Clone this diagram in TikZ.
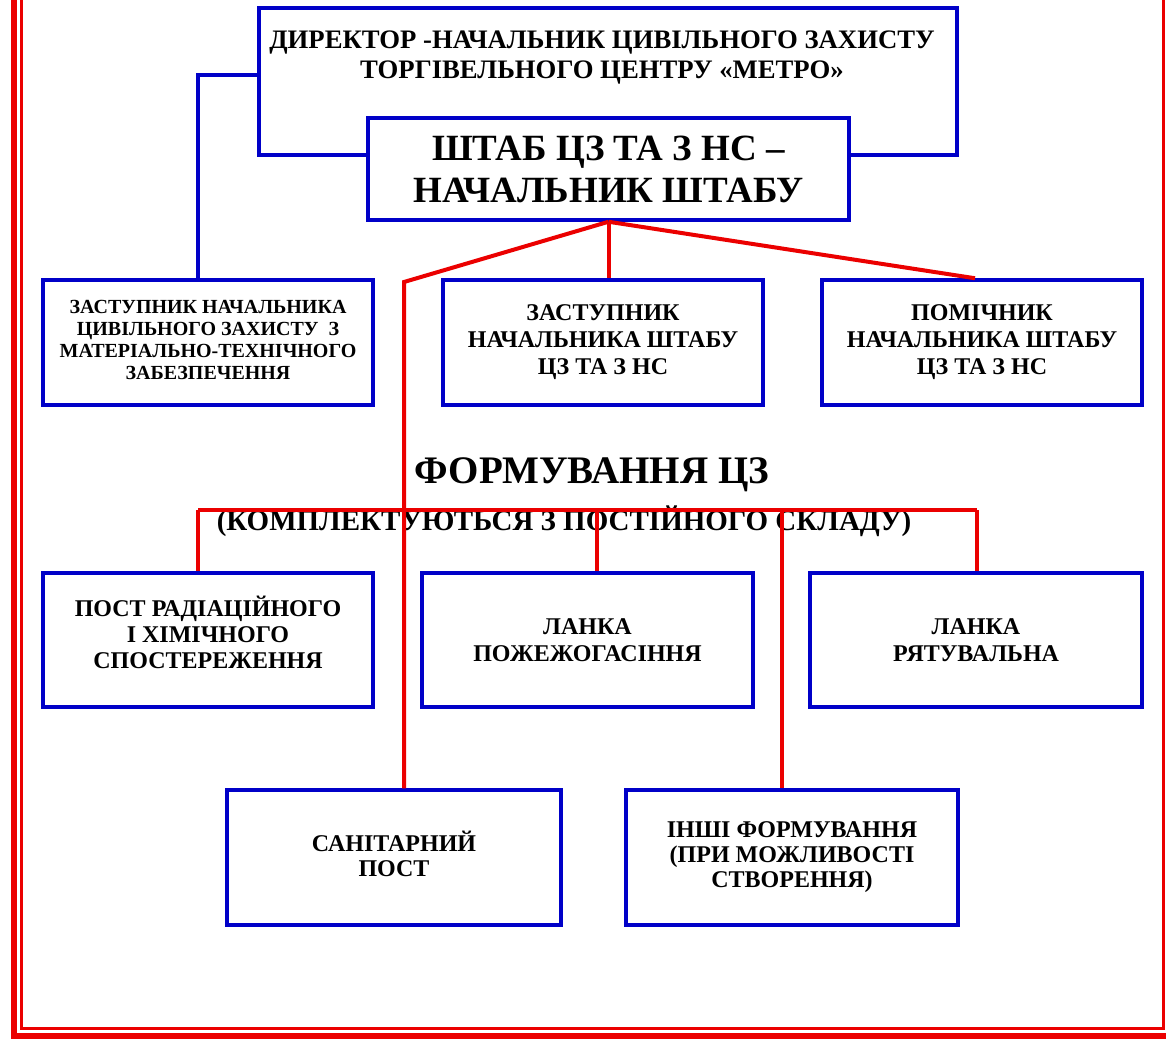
\documentclass[tikz,border=0pt]{standalone}
\usepackage{fontspec}
\setmainfont{Liberation Serif}
\definecolor{bl}{RGB}{0,0,200}
\definecolor{rd}{RGB}{235,0,0}
\begin{document}
\begin{tikzpicture}[x=1pt,y=-1pt,
  box/.style={draw=bl, line width=3.5pt, fill=white, inner sep=0pt, align=center, font=\bfseries},
  redline/.style={draw=rd, line width=4pt},
  blueline/.style={draw=bl, line width=3.5pt},
  fr/.style={draw=rd},
  lbl/.style={font=\bfseries, inner sep=0pt, align=center}]
\useasboundingbox (0,0) rectangle (1166,1038);
% frame
\draw[fr, line width=6pt] (14,-20) -- (14,1035.5) -- (1175,1035.5);
\draw[fr, line width=3pt] (21.5,-20) -- (21.5,1028.5) -- (1163,1028.5) -- (1163,-20);

% top boxes
\node[box, minimum width=698pt, minimum height=147pt] (dir) at (608,81.5) {};
\node[lbl, font=\bfseries\fontsize{26.7}{30}\selectfont] (dirtext) at (602,58)
  {ДИРЕКТОР -НАЧАЛЬНИК ЦИВІЛЬНОГО ЗАХИСТУ\\ТОРГІВЕЛЬНОГО ЦЕНТРУ «МЕТРО»};
\node[box, minimum width=481pt, minimum height=102pt, font=\bfseries\fontsize{37}{42}\selectfont] (staff) at (608.5,169)
  {ШТАБ ЦЗ ТА З НС –\\НАЧАЛЬНИК ШТАБУ};

% first row
\node[box, minimum width=330pt, minimum height=125pt, text depth=6pt, font=\bfseries\fontsize{20}{22}\selectfont] (dz) at (208,342.5)
  {ЗАСТУПНИК НАЧАЛЬНИКА\\ЦИВІЛЬНОГО ЗАХИСТУ~~З\\МАТЕРІАЛЬНО-ТЕХНІЧНОГО\\ЗАБЕЗПЕЧЕННЯ};
\node[box, minimum width=320pt, minimum height=125pt, text depth=6pt, font=\bfseries\fontsize{24}{27}\selectfont] (zn) at (603,342.5)
  {ЗАСТУПНИК\\НАЧАЛЬНИКА ШТАБУ\\ЦЗ ТА З НС};
\node[box, minimum width=320pt, minimum height=125pt, text depth=6pt, font=\bfseries\fontsize{24}{27}\selectfont] (pm) at (982,342.5)
  {ПОМІЧНИК\\НАЧАЛЬНИКА ШТАБУ\\ЦЗ ТА З НС};

% headings
\node[lbl, anchor=base, font=\bfseries\fontsize{39}{39}\selectfont] (title) at (592,483) {ФОРМУВАННЯ ЦЗ};
\node[lbl, anchor=base, font=\bfseries\fontsize{29}{29}\selectfont] (sub) at (564,530) {(КОМПЛЕКТУЮТЬСЯ З ПОСТІЙНОГО СКЛАДУ)};

% second row
\node[box, minimum width=330pt, minimum height=134pt, text depth=15pt, font=\bfseries\fontsize{24}{26}\selectfont] (pr) at (208,640)
  {ПОСТ РАДІАЦІЙНОГО\\І ХІМІЧНОГО\\СПОСТЕРЕЖЕННЯ};
\node[box, minimum width=331pt, minimum height=134pt, font=\bfseries\fontsize{24}{27}\selectfont] (lp) at (587.5,640)
  {ЛАНКА\\ПОЖЕЖОГАСІННЯ};
\node[box, minimum width=332pt, minimum height=134pt, font=\bfseries\fontsize{24}{27}\selectfont] (lr) at (976,640)
  {ЛАНКА\\РЯТУВАЛЬНА};

% third row
\node[box, minimum width=334pt, minimum height=135pt, text depth=8pt, font=\bfseries\fontsize{24}{25}\selectfont] (san) at (394,857.5)
  {САНІТАРНИЙ\\ПОСТ};
\node[box, minimum width=332pt, minimum height=135pt, font=\bfseries\fontsize{24}{25}\selectfont] (inshi) at (792,857.5)
  {ІНШІ ФОРМУВАННЯ\\(ПРИ МОЖЛИВОСТІ\\СТВОРЕННЯ)};

% blue connector
\draw[blueline] ([xshift=-10pt]dz.north) |- ([yshift=6.5pt]dir.west);

% red connectors
\coordinate (kL) at (404,282);
\coordinate (busL) at (198,510);
\coordinate (busR) at (977,510);
\draw[redline] (staff.south) -- (kL) -- (kL |- san.north);
\draw[redline] (staff.south) -- (staff.south |- zn.north);
\draw[redline] (staff.south) -- ([xshift=-7pt]pm.north);
\draw[redline] (busL) -- (busR);
\draw[redline] (busL) -- (busL |- pr.north);
\draw[redline] ([xshift=9.5pt]lp.north |- busL) -- ([xshift=9.5pt]lp.north);
\draw[redline] (busR) -- (busR |- lr.north);
\draw[redline] ([xshift=-10pt]inshi.north |- busL) -- ([xshift=-10pt]inshi.north);
\end{tikzpicture}
\end{document}
